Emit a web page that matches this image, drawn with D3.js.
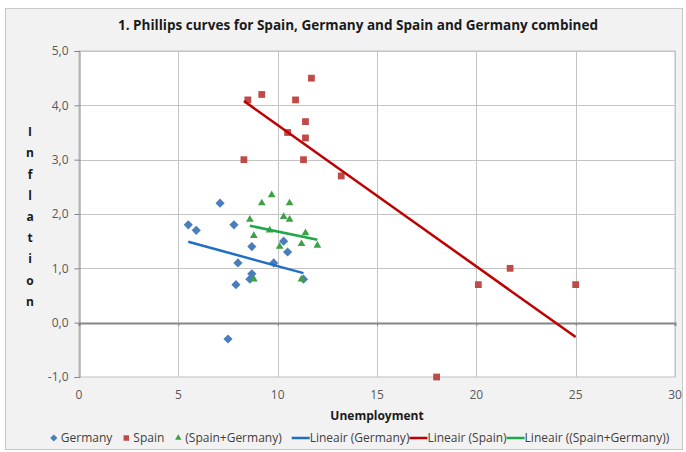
<!DOCTYPE html>
<html>
<head>
<meta charset="utf-8">
<script src="https://cdn.jsdelivr.net/npm/d3@7"></script>
<style>
  body { margin: 0; background: #fff; }
  text { font-family: "Open Sans", "Noto Sans", sans-serif; }
</style>
</head>
<body>
<svg id="chart" width="686" height="452"></svg>
<script>
// Series (unemployment %, inflation %).
const germanyX = [7.1, 5.5, 5.9, 7.8, 8.7, 10.3, 10.5, 8.0, 9.8, 8.7, 8.6, 11.3, 7.9, 7.5];
const germanyY = [2.2, 1.8, 1.7, 1.8, 1.4, 1.5, 1.3, 1.1, 1.1, 0.9, 0.8, 0.8, 0.7, -0.3];

const spainX = [11.7, 9.2, 8.5, 10.9, 11.4, 10.5, 11.4, 8.3, 11.3, 13.2, 20.1, 21.7, 25.0, 18.0];
const spainY = [4.5, 4.2, 4.1, 4.1, 3.7, 3.5, 3.4, 3.0, 3.0, 2.7, 0.7, 1.0, 0.7, -1.0];

const comboX = [9.7, 9.2, 10.6, 8.6, 10.3, 10.6, 9.6, 11.4, 8.8, 11.2, 12.0, 10.1, 8.8, 11.2];
const comboY = [2.35, 2.2, 2.2, 1.9, 1.95, 1.9, 1.7, 1.65, 1.6, 1.45, 1.42, 1.4, 0.8, 0.8];

const xTicks = [0, 5, 10, 15, 20, 25, 30];
const yTicks = [-1, 0, 1, 2, 3, 4, 5];

const title = '1. Phillips curves for Spain, Germany and Spain and Germany combined';
const xTitle = 'Unemployment';
const yTitle = 'Inflation';

const SERIES = [
  { name: 'Germany', xs: germanyX, ys: germanyY, color: '#4a7ebb', line: '#1f6fc5', shape: 'diamond', trend: 'Lineair (Germany)' },
  { name: 'Spain', xs: spainX, ys: spainY, color: '#be4b48', line: '#c00000', shape: 'square', trend: 'Lineair (Spain)' },
  { name: '(Spain+Germany)', xs: comboX, ys: comboY, color: '#3fa046', line: '#1ea84a', shape: 'triangle', trend: 'Lineair ((Spain+Germany))' },
];

const svg = d3.select('#chart');
const plot = { left: 79, right: 675, top: 51, bottom: 377 };

const x = d3.scaleLinear().domain([0, 30]).range([plot.left, plot.right]);
const y = d3.scaleLinear().domain([-1, 5]).range([plot.bottom, plot.top]);

// Excel-like diamond (wider than d3's default).
const diamond = {
  draw(ctx, size) {
    const r = Math.sqrt(size / 2);
    ctx.moveTo(0, -r); ctx.lineTo(r, 0); ctx.lineTo(0, r); ctx.lineTo(-r, 0); ctx.closePath();
  },
};
const SHAPES = {
  diamond: [diamond, 42, 26],
  square: [d3.symbolSquare, 46, 30],
  triangle: [d3.symbolTriangle, 26, 18],
};

// Chart frame
svg.append('rect')
  .attr('x', 5.5).attr('y', 8.5).attr('width', 677).attr('height', 441)
  .attr('fill', '#f2f2f2').attr('stroke', '#c8c8c8');

svg.append('text')
  .attr('x', 358).attr('y', 25).attr('dy', '0.35em')
  .attr('text-anchor', 'middle')
  .attr('font-size', 13.5).attr('font-weight', 'bold').attr('fill', '#1a1a1a')
  .attr('textLength', 480).attr('lengthAdjust', 'spacingAndGlyphs')
  .text(title);

// Plot area
svg.append('rect')
  .attr('x', plot.left).attr('y', plot.top)
  .attr('width', plot.right - plot.left).attr('height', plot.bottom - plot.top)
  .attr('fill', '#fff').attr('stroke', '#bfbfbf');

const grid = svg.append('g').attr('stroke', '#c4c4c4').attr('stroke-width', 1);
grid.selectAll('.gx').data(xTicks.slice(1)).join('line')
  .attr('x1', (d) => Math.round(x(d)) + 0.5).attr('x2', (d) => Math.round(x(d)) + 0.5)
  .attr('y1', plot.top).attr('y2', plot.bottom);
grid.selectAll('.gy').data(yTicks.filter((d) => d !== 0 && d !== -1)).join('line')
  .attr('x1', plot.left).attr('x2', plot.right)
  .attr('y1', (d) => Math.round(y(d)) + 0.5).attr('y2', (d) => Math.round(y(d)) + 0.5);

// Y axis: line, ticks, labels
const yAxis = d3.axisLeft(y).tickValues(yTicks).tickSize(5).tickPadding(6)
  .tickFormat((d) => d.toFixed(1).replace('.', ','));
const gy = svg.append('g').attr('transform', `translate(${plot.left + 0.5},0)`).call(yAxis);
gy.select('.domain').attr('stroke', '#868686');
gy.selectAll('.tick line').attr('stroke', '#868686');
gy.selectAll('.tick text').attr('fill', '#595959').attr('font-size', 12)
  .style('font-family', '"Open Sans", sans-serif');

// Zero line acting as x axis
const zeroY = Math.round(y(0));
const xAxis = d3.axisBottom(x).tickValues(xTicks).tickSize(3).tickFormat('');
const gx = svg.append('g').attr('transform', `translate(0,${zeroY})`).call(xAxis);
gx.select('.domain').attr('stroke', '#868686').attr('stroke-width', 2);
gx.selectAll('.tick line').attr('stroke', '#868686');

svg.append('g').selectAll('text').data(xTicks).join('text')
  .attr('x', (d) => x(d)).attr('y', 395).attr('dy', '0.35em')
  .attr('text-anchor', 'middle').attr('font-size', 12).attr('fill', '#595959')
  .text((d) => d);

svg.append('text')
  .attr('x', (plot.left + plot.right) / 2).attr('y', 416).attr('dy', '0.35em')
  .attr('text-anchor', 'middle').attr('font-size', 12).attr('font-weight', 'bold').attr('fill', '#1a1a1a')
  .text(xTitle);

// Vertical stacked axis title
svg.append('g').selectAll('text').data(yTitle.split('')).join('text')
  .attr('x', 30).attr('y', (d, i) => 132 + i * 21.2).attr('dy', '0.35em')
  .attr('text-anchor', 'middle').attr('font-size', 12).attr('font-weight', 'bold').attr('fill', '#1a1a1a')
  .text((d) => d);

// Least-squares trend line spanning the series' x range.
function trend(xs, ys) {
  const mx = d3.mean(xs), my = d3.mean(ys);
  const sxy = d3.sum(xs, (v, i) => (v - mx) * (ys[i] - my));
  const sxx = d3.sum(xs, (v) => (v - mx) * (v - mx));
  const slope = sxy / sxx;
  const b = my - slope * mx;
  const [x0, x1] = d3.extent(xs);
  return [[x0, b + slope * x0], [x1, b + slope * x1]];
}

const marks = svg.append('g');
SERIES.forEach((s) => {
  const pts = s.xs.map((v, i) => [v, s.ys[i]]);
  const [type, size] = SHAPES[s.shape];
  marks.append('g').selectAll('path').data(pts).join('path')
    .attr('transform', (d) => `translate(${x(d[0])},${y(d[1])})`)
    .attr('d', d3.symbol(type, size))
    .attr('fill', s.color);
});
SERIES.forEach((s) => {
  const t = trend(s.xs, s.ys);
  marks.append('line')
    .attr('x1', x(t[0][0])).attr('y1', y(t[0][1]))
    .attr('x2', x(t[1][0])).attr('y2', y(t[1][1]))
    .attr('stroke', s.line).attr('stroke-width', 2.5);
});

// Legend, laid out left to right
const legend = svg.append('g');
let cx = 0;
const ly = 438;
const items = [];
SERIES.forEach((s) => items.push({ kind: 'marker', s, label: s.name }));
SERIES.forEach((s) => items.push({ kind: 'line', s, label: s.trend }));
items.forEach((it) => {
  if (it.kind === 'marker') {
    const [type, , size] = SHAPES[it.s.shape];
    legend.append('path')
      .attr('transform', `translate(${cx + 4},${ly})`)
      .attr('d', d3.symbol(type, size))
      .attr('fill', it.s.color);
    cx += 11;
  } else {
    legend.append('line')
      .attr('x1', cx).attr('x2', cx + 18).attr('y1', ly).attr('y2', ly)
      .attr('stroke', it.s.line).attr('stroke-width', 2.5);
    cx += 18;
  }
  const t = legend.append('text')
    .attr('x', cx).attr('y', ly).attr('dy', '0.35em')
    .attr('font-size', 12).attr('fill', '#404040')
    .text(it.label);
  cx += t.node().getComputedTextLength();
  if (it.kind === 'marker') cx += 10;
});
legend.attr('transform', `translate(${359.5 - cx / 2},0)`);
</script>
</body>
</html>
